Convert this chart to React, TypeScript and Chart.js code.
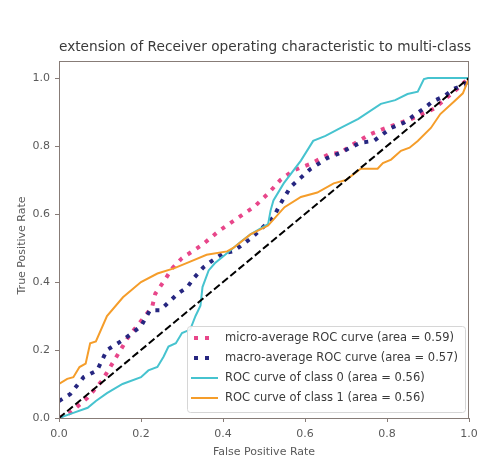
import React, { useEffect, useRef } from "react";
import { Chart, registerables } from "chart.js";

Chart.register(...registerables);

// ROC curve points (false positive rate / true positive rate)
const microFpr = [0, 0.027, 0.07, 0.105, 0.13, 0.17, 0.19, 0.227, 0.235, 0.26, 0.276, 0.3, 0.325, 0.35, 0.39, 0.45, 0.475, 0.51, 0.54, 0.57, 0.614, 0.66, 0.687, 0.71, 0.76, 0.79, 0.86, 0.915, 0.973, 1];
const microTpr = [0, 0.015, 0.06, 0.11, 0.16, 0.24, 0.27, 0.326, 0.366, 0.41, 0.44, 0.47, 0.49, 0.51, 0.55, 0.6, 0.62, 0.66, 0.7, 0.727, 0.748, 0.777, 0.78, 0.8, 0.835, 0.85, 0.88, 0.91, 0.97, 1];

const macroFpr = [0, 0.027, 0.06, 0.093, 0.117, 0.157, 0.2, 0.222, 0.247, 0.29, 0.313, 0.33, 0.352, 0.374, 0.4, 0.425, 0.47, 0.523, 0.54, 0.565, 0.59, 0.614, 0.655, 0.687, 0.71, 0.736, 0.768, 0.81, 0.84, 0.89, 0.91, 0.94, 0.963, 0.99, 1];
const macroTpr = [0.05, 0.07, 0.12, 0.14, 0.2, 0.23, 0.27, 0.317, 0.317, 0.366, 0.385, 0.413, 0.443, 0.463, 0.484, 0.49, 0.53, 0.59, 0.63, 0.68, 0.707, 0.733, 0.765, 0.78, 0.795, 0.81, 0.815, 0.853, 0.868, 0.91, 0.93, 0.947, 0.968, 0.98, 1];

const class0Fpr = [0, 0.035, 0.07, 0.09, 0.117, 0.155, 0.2, 0.218, 0.24, 0.255, 0.267, 0.285, 0.3, 0.32, 0.333, 0.345, 0.35, 0.365, 0.38, 0.4, 0.425, 0.445, 0.467, 0.51, 0.516, 0.523, 0.548, 0.59, 0.62, 0.65, 0.687, 0.73, 0.785, 0.82, 0.85, 0.875, 0.89, 0.9, 1];
const class0Tpr = [0, 0.015, 0.03, 0.05, 0.073, 0.1, 0.12, 0.14, 0.15, 0.18, 0.21, 0.22, 0.25, 0.26, 0.3, 0.33, 0.385, 0.434, 0.455, 0.475, 0.5, 0.52, 0.54, 0.57, 0.61, 0.64, 0.69, 0.757, 0.815, 0.83, 0.853, 0.88, 0.924, 0.935, 0.953, 0.96, 0.997, 1, 1];

const class1Fpr = [0, 0, 0.02, 0.035, 0.05, 0.065, 0.076, 0.09, 0.117, 0.156, 0.2, 0.24, 0.28, 0.32, 0.36, 0.41, 0.425, 0.467, 0.51, 0.55, 0.59, 0.63, 0.67, 0.7, 0.736, 0.777, 0.79, 0.81, 0.834, 0.855, 0.875, 0.907, 0.93, 0.963, 0.985, 1];
const class1Tpr = [0, 0.1, 0.115, 0.12, 0.15, 0.16, 0.22, 0.225, 0.3, 0.355, 0.4, 0.425, 0.44, 0.46, 0.48, 0.49, 0.5, 0.54, 0.566, 0.62, 0.65, 0.663, 0.69, 0.7, 0.733, 0.733, 0.75, 0.76, 0.786, 0.795, 0.815, 0.853, 0.894, 0.93, 0.955, 1];

const chanceFpr = [0, 1];
const chanceTpr = [0, 1];

const seriesLabels = [
  "micro-average ROC curve (area = 0.59)",
  "macro-average ROC curve (area = 0.57)",
  "ROC curve of class 0 (area = 0.56)",
  "ROC curve of class 1 (area = 0.56)",
];

const xTickValues = [0, 0.2, 0.4, 0.6, 0.8, 1.0];
const yTickValues = [0, 0.2, 0.4, 0.6, 0.8, 1.0];

const titleText = "extension of Receiver operating characteristic to multi-class";
const xTitle = "False Positive Rate";
const yTitle = "True Positive Rate";

const FONT = "'DejaVu Sans', 'Liberation Sans', sans-serif";
const FRAME = "#877c77";
const TEXT = "#3a3a3a";
const TICK_TEXT = "#5a5a5a";

const PINK = "#e8468a";
const NAVY = "#262680";
const CYAN = "#46c3cf";
const ORANGE = "#f59d2a";

const DOT_DASH = [4, 6.6];

const toPoints = (xs: number[], ys: number[]) => xs.map((x, i) => ({ x, y: ys[i] }));

const legendStyles = [
  { color: PINK, width: 4, dash: [4, 7], from: 194, to: 212 },
  { color: NAVY, width: 4, dash: [4, 7], from: 194, to: 212 },
  { color: CYAN, width: 2, dash: [] as number[], from: 191, to: 218 },
  { color: ORANGE, width: 2, dash: [] as number[], from: 191, to: 218 },
];

const decorations = {
  id: "decorations",
  afterDraw(chart: any) {
    const { ctx, chartArea } = chart;
    const { left, right, top, bottom } = chartArea;
    ctx.save();

    // axes frame
    ctx.strokeStyle = FRAME;
    ctx.lineWidth = 1;
    ctx.setLineDash([]);
    ctx.strokeRect(left + 0.5, top + 0.5, right - left - 1, bottom - top);

    // title
    ctx.fillStyle = TEXT;
    ctx.font = `13.7px ${FONT}`;
    ctx.textAlign = "center";
    ctx.textBaseline = "middle";
    ctx.fillText(titleText, (left + right) / 2 + 1, 47);

    // axis titles
    ctx.fillStyle = TICK_TEXT;
    ctx.font = `11px ${FONT}`;
    ctx.fillText(xTitle, (left + right) / 2, 452);
    ctx.save();
    ctx.translate(22, (top + bottom) / 2 + 6);
    ctx.rotate(-Math.PI / 2);
    ctx.fillText(yTitle, 0, 0);
    ctx.restore();

    // legend
    const bx = 187;
    const by = 326;
    const bw = right - 4 - bx;
    const bh = 86;
    ctx.beginPath();
    ctx.roundRect(bx + 0.5, by + 0.5, bw, bh, 3);
    ctx.fillStyle = "rgba(255,255,255,0.85)";
    ctx.fill();
    ctx.strokeStyle = "#d6d6d6";
    ctx.stroke();

    ctx.textAlign = "left";
    ctx.textBaseline = "middle";
    ctx.font = `11.5px ${FONT}`;
    seriesLabels.forEach((label, i) => {
      const y = 338 + i * 20;
      const st = legendStyles[i];
      ctx.beginPath();
      ctx.setLineDash(st.dash);
      ctx.lineCap = "butt";
      ctx.lineWidth = st.width;
      ctx.strokeStyle = st.color;
      ctx.moveTo(st.from, y);
      ctx.lineTo(st.to, y);
      ctx.stroke();
      ctx.setLineDash([]);
      ctx.fillStyle = TEXT;
      ctx.fillText(label, 225, y);
    });

    ctx.restore();
  },
};

export default function App() {
  const canvasRef = useRef<HTMLCanvasElement | null>(null);

  useEffect(() => {
    const canvas = canvasRef.current;
    if (!canvas) return;

    const lineSet = (label: string, xs: number[], ys: number[], color: string, width: number, dash: number[], order: number) => ({
      label,
      data: toPoints(xs, ys),
      showLine: true,
      borderColor: color,
      backgroundColor: color,
      borderWidth: width,
      borderDash: dash,
      borderCapStyle: "butt" as const,
      pointRadius: 0,
      pointHoverRadius: 0,
      tension: 0,
      order,
    });

    const chart = new Chart(canvas, {
      type: "scatter",
      data: {
        datasets: [
          lineSet(seriesLabels[0], microFpr, microTpr, PINK, 4, DOT_DASH, 5),
          lineSet(seriesLabels[1], macroFpr, macroTpr, NAVY, 4, DOT_DASH, 4),
          lineSet(seriesLabels[2], class0Fpr, class0Tpr, CYAN, 2, [], 3),
          lineSet(seriesLabels[3], class1Fpr, class1Tpr, ORANGE, 2, [], 2),
          lineSet("chance", chanceFpr, chanceTpr, "#000000", 2, [7.4, 3.2], 1),
        ],
      },
      options: {
        animation: false,
        responsive: false,
        maintainAspectRatio: false,
        layout: { padding: { top: 61, right: 12, left: 0, bottom: 0 } },
        plugins: {
          legend: { display: false },
          title: { display: false },
          tooltip: { enabled: false },
        },
        scales: {
          x: {
            type: "linear",
            min: 0,
            max: 1,
            afterBuildTicks: (s: any) => {
              s.ticks = xTickValues.map((v) => ({ value: v }));
            },
            afterFit: (s: any) => {
              s.height = 45;
              s.paddingLeft = 0;
              s.paddingRight = 0;
            },
            ticks: {
              callback: (v: any) => Number(v).toFixed(1),
              color: TICK_TEXT,
              font: { family: FONT, size: 11 },
              padding: 6,
              maxRotation: 0,
            },
            grid: { drawOnChartArea: false, tickLength: 4, color: FRAME },
            border: { display: true, color: FRAME },
          },
          y: {
            type: "linear",
            min: 0,
            max: 1.05,
            afterBuildTicks: (s: any) => {
              s.ticks = yTickValues.map((v) => ({ value: v }));
            },
            afterFit: (s: any) => {
              s.width = 59;
              s.paddingTop = 0;
              s.paddingBottom = 0;
            },
            ticks: {
              callback: (v: any) => Number(v).toFixed(1),
              color: TICK_TEXT,
              font: { family: FONT, size: 11 },
              padding: 5,
            },
            grid: { drawOnChartArea: false, tickLength: 4, color: FRAME },
            border: { display: true, color: FRAME },
          },
        },
      },
      plugins: [decorations],
    });

    return () => chart.destroy();
  }, []);

  return (
    <div style={{ position: "fixed", left: 0, top: 0, width: 481, height: 463, background: "#ffffff" }}>
      <canvas ref={canvasRef} width={481} height={463} />
    </div>
  );
}
